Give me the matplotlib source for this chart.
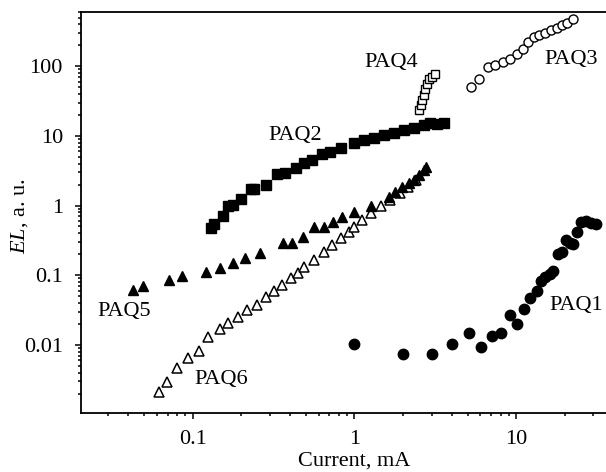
import matplotlib
matplotlib.use('Agg')
import matplotlib.pyplot as plt
import numpy as np
from matplotlib.ticker import FixedLocator, FixedFormatter, LogLocator, NullFormatter

plt.rcParams['font.family'] = ['Liberation Serif', 'DejaVu Serif']
plt.rcParams['mathtext.fontset'] = 'custom'
plt.rcParams['mathtext.it'] = 'Liberation Serif:italic'
plt.rcParams['mathtext.rm'] = 'Liberation Serif'

#  ----------------------  data  ----------------------------------------------
paq1_i = [1.0, 2.0, 3.0, 4.0, 5.1, 6.1, 7.1, 8.1, 9.1, 10.1, 11.2, 12.1, 13.4, 14.2,
          15.1, 16.1, 17.0, 18.0, 19.1, 20.3, 21.5, 22.6, 23.7, 25.0, 27.0, 29.0, 31.0]
paq1_el = [0.0102, 0.0074, 0.0074, 0.0102, 0.015, 0.0092, 0.0133, 0.015, 0.027, 0.0196,
           0.033, 0.047, 0.059, 0.082, 0.093, 0.105, 0.114, 0.198, 0.216, 0.318, 0.285,
           0.276, 0.42, 0.58, 0.6, 0.57, 0.55]

paq2_i = [0.129, 0.135, 0.155, 0.166, 0.178, 0.198, 0.228, 0.241, 0.282, 0.33, 0.37,
          0.435, 0.49, 0.548, 0.63, 0.71, 0.82, 0.99, 1.14, 1.32, 1.52, 1.75, 2.02,
          2.32, 2.68, 2.94, 3.24, 3.56]
paq2_el = [0.47, 0.55, 0.71, 0.99, 1.03, 1.26, 1.75, 1.75, 2.0, 2.88, 2.97, 3.4, 4.14,
           4.47, 5.4, 5.9, 6.6, 7.8, 8.65, 9.36, 10.2, 11.1, 12.0, 13.0, 14.2, 15.5,
           15.0, 15.5]

paq3_i = [5.25, 5.86, 6.66, 7.42, 8.27, 9.18, 10.1, 11.0, 11.9, 12.8, 13.9, 15.1, 16.4,
          17.8, 19.1, 20.6, 22.6]
paq3_el = [50.5, 66.4, 97.8, 103, 115, 128, 152, 178, 224, 264, 278, 304, 327, 355,
           386, 422, 471]

paq4_i = [2.5, 2.59, 2.62, 2.7, 2.74, 2.81, 2.88, 3.02, 3.16]
paq4_el = [23.3, 27.5, 32.4, 39, 47.7, 56, 66, 70, 78]

paq5_i = [0.043, 0.049, 0.071, 0.086, 0.12, 0.147, 0.177, 0.21, 0.26, 0.36, 0.41, 0.48,
          0.56, 0.65, 0.74, 0.84, 0.99, 1.26, 1.63, 1.79, 1.97, 2.16, 2.32, 2.5, 2.68, 2.78]
paq5_el = [0.061, 0.07, 0.085, 0.097, 0.112, 0.128, 0.151, 0.174, 0.21, 0.294, 0.285,
           0.356, 0.484, 0.484, 0.58, 0.69, 0.81, 1.0, 1.33, 1.57, 1.85, 2.07, 2.31, 2.72,
           3.21, 3.59]

paq6_i = [0.062, 0.069, 0.0805, 0.094, 0.109, 0.124, 0.147, 0.166, 0.19, 0.218, 0.248,
          0.282, 0.318, 0.358, 0.403, 0.449, 0.486, 0.561, 0.646, 0.728, 0.82, 0.922,
          0.99, 1.11, 1.26, 1.45, 1.65, 1.9, 2.15, 2.4]
paq6_el = [0.00212, 0.0029, 0.00458, 0.00638, 0.0082, 0.0128, 0.0168, 0.0203, 0.0253,
           0.0315, 0.037, 0.049, 0.059, 0.072, 0.0897, 0.106, 0.132, 0.164, 0.217, 0.269,
           0.336, 0.42, 0.49, 0.62, 0.78, 0.97, 1.2, 1.5, 1.85, 2.3]

# curve labels: text, current, EL
labels = ['PAQ1', 'PAQ2', 'PAQ3', 'PAQ4', 'PAQ5', 'PAQ6']
label_i = [23.5, 0.432, 21.9, 1.69, 0.0375, 0.149]
label_el = [0.0367, 10.1, 124, 112, 0.0301, 0.00319]

x_ticks = [0.1, 1, 10]
x_labels = ['0.1', '1', '10']
y_ticks = [0.01, 0.1, 1, 10, 100]
y_labels = ['0.01', '0.1', '1', '10', '100']

#  --------------------------------  plot  ------------------------------------
fig = plt.figure(figsize=(6.06, 4.72), dpi=100)
ax = fig.add_axes([0.1337, 0.125, 0.8663, 0.8496])

ax.plot(paq1_i, paq1_el, 'o', color='k', ms=7.5, mec='k')
ax.plot(paq2_i, paq2_el, 's', color='k', ms=7, mec='k')
ax.plot(paq3_i, paq3_el, 'o', mfc='white', mec='k', ms=6.5, mew=1)
ax.plot(paq4_i, paq4_el, 's', mfc='white', mec='k', ms=5.5, mew=1)
ax.plot(paq6_i, paq6_el, '^', mfc='white', mec='k', ms=7, mew=1.1)
ax.plot(paq5_i, paq5_el, '^', color='k', ms=7.5)

for t, xi, yi in zip(labels, label_i, label_el):
    ax.text(xi, yi, t, fontsize=16, ha='center', va='center')

ax.set_xscale('log')
ax.set_yscale('log')
ax.set_xlim(0.0204, 35.9)
ax.set_ylim(0.00105, 600)

ax.xaxis.set_major_locator(FixedLocator(x_ticks))
ax.xaxis.set_major_formatter(FixedFormatter(x_labels))
ax.yaxis.set_major_locator(FixedLocator(y_ticks))
ax.yaxis.set_major_formatter(FixedFormatter(y_labels))
ax.xaxis.set_minor_locator(LogLocator(base=10, subs=np.arange(2, 10)))
ax.yaxis.set_minor_locator(LogLocator(base=10, subs=np.arange(2, 10)))
ax.xaxis.set_minor_formatter(NullFormatter())
ax.yaxis.set_minor_formatter(NullFormatter())

ax.tick_params(which='both', direction='out', width=1.1, labelsize=16)
ax.tick_params(axis='y', pad=9)
ax.tick_params(axis='x', pad=8)
ax.tick_params(which='major', length=4)
ax.tick_params(which='minor', length=2.5)
ax.spines['right'].set_visible(False)
for s in ['left', 'bottom', 'top']:
    ax.spines[s].set_linewidth(1.3)

ax.set_xlabel('Current, mA', fontsize=16)
ax.set_ylabel('$EL$, a. u.', fontsize=16)
ax.xaxis.set_label_coords(0.52, -0.097)
ax.yaxis.set_label_coords(-0.097, 0.49)

plt.savefig('out.png', dpi=100)
